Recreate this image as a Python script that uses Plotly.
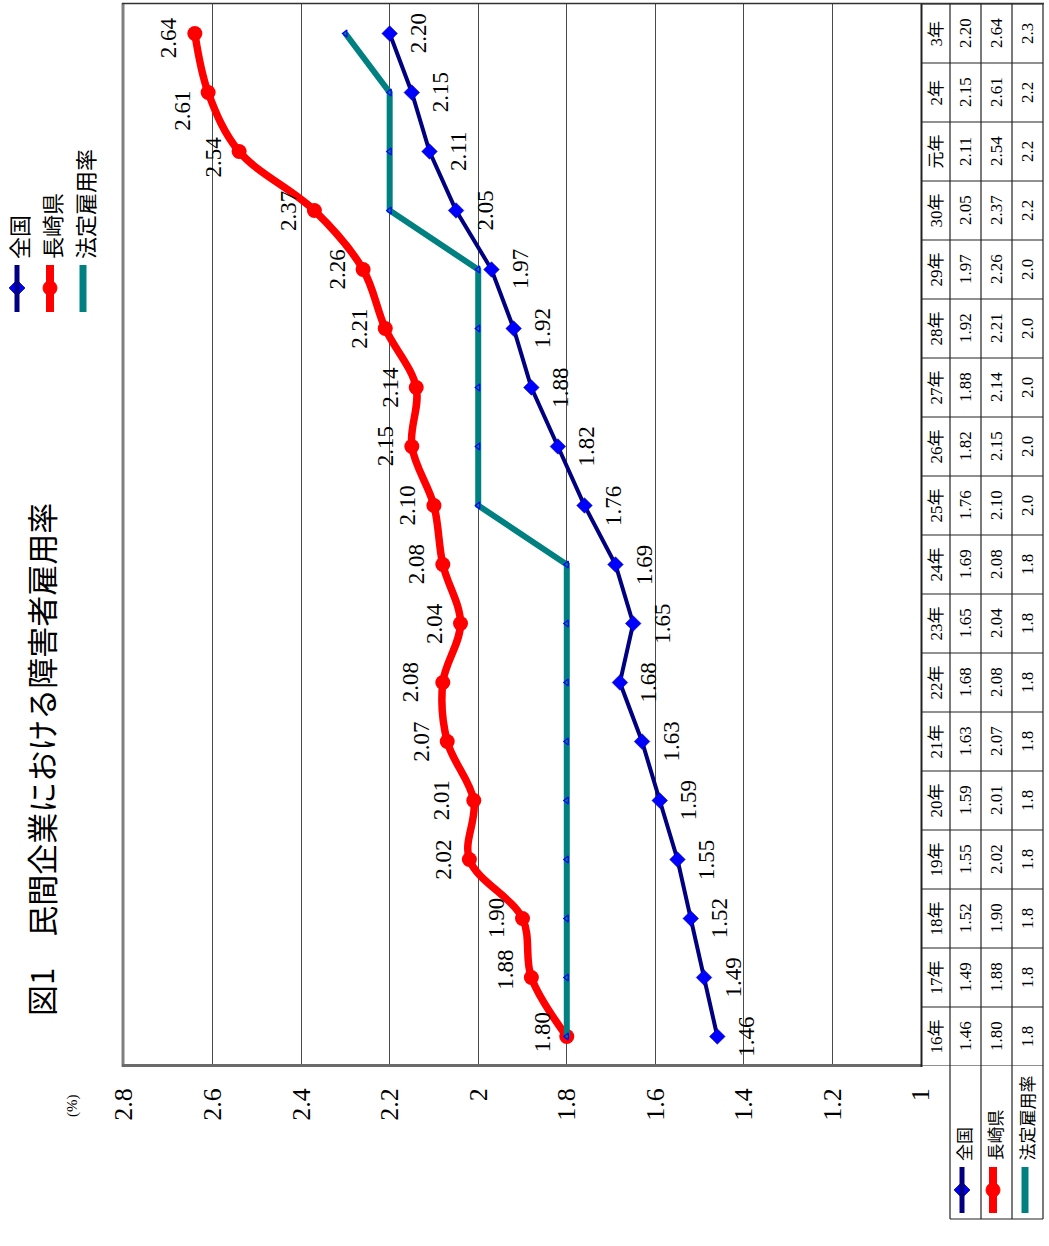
import plotly.graph_objects as go

W, H = 1049, 1246

# ---- data -------------------------------------------------------------
years = ["16年", "17年", "18年", "19年", "20年", "21年", "22年", "23年", "24年",
         "25年", "26年", "27年", "28年", "29年", "30年", "元年", "2年", "3年"]
national = [1.46, 1.49, 1.52, 1.55, 1.59, 1.63, 1.68, 1.65, 1.69,
            1.76, 1.82, 1.88, 1.92, 1.97, 2.05, 2.11, 2.15, 2.20]
nagasaki = [1.80, 1.88, 1.90, 2.02, 2.01, 2.07, 2.08, 2.04, 2.08,
            2.10, 2.15, 2.14, 2.21, 2.26, 2.37, 2.54, 2.61, 2.64]
legal = [1.8, 1.8, 1.8, 1.8, 1.8, 1.8, 1.8, 1.8, 1.8,
         2.0, 2.0, 2.0, 2.0, 2.0, 2.2, 2.2, 2.2, 2.3]
series_names = ["全国", "長崎県", "法定雇用率"]
value_ticks = [1.0, 1.2, 1.4, 1.6, 1.8, 2.0, 2.2, 2.4, 2.6, 2.8]
value_tick_text = ["1", "1.2", "1.4", "1.6", "1.8", "2", "2.2", "2.4", "2.6", "2.8"]
title_text = "図1　民間企業における障害者雇用率"

# ---- styles -----------------------------------------------------------
NAVY, BLUE, RED, TEAL = "#000080", "#0000FF", "#FF0000", "#008080"
SERIF = '"Liberation Serif", "Noto Sans CJK JP", serif'
CJK = '"Noto Sans CJK JP", sans-serif'

# label nudges (pixels) for a few crowded 長崎県 labels: index -> (dx, dy)
nagasaki_label_nudge = {0: (2, 4), 1: (0, 8), 4: (-6, 0), 6: (-6, 0),
                        15: (0, -6), 16: (0, -18), 17: (0, -4)}

# pixel -> paper helpers
def px(x):
    return x / W

def py(y):
    return 1 - y / H

PLOT_L, PLOT_R, PLOT_T, PLOT_B = 124, 921, 4, 1066

fig = go.Figure()

# series (chart is laid out rotated: values run right-to-left, years bottom-to-top)
fig.add_trace(go.Scatter(
    x=nagasaki, y=years, mode="lines+markers", name="長崎県",
    line=dict(color=RED, width=7.5, shape="spline", smoothing=1.0),
    marker=dict(symbol="circle", size=15, color=RED),
))
fig.add_trace(go.Scatter(
    x=legal, y=years, mode="lines+markers", name="法定雇用率",
    line=dict(color=TEAL, width=6),
    marker=dict(symbol="triangle-left", size=6, color=TEAL,
                line=dict(color=BLUE, width=1.2)),
))
fig.add_trace(go.Scatter(
    x=national, y=years, mode="lines+markers", name="全国",
    line=dict(color=NAVY, width=4),
    marker=dict(symbol="diamond", size=12, color=BLUE,
                line=dict(color=NAVY, width=0.5)),
))

annotations = []
shapes = []


def note(x, y, text, size, family, xref="paper", yref="paper",
         xanchor="center", yanchor="middle", xshift=0, yshift=0):
    annotations.append(dict(x=x, y=y, xref=xref, yref=yref, text=text,
                            textangle=-90, showarrow=False,
                            xanchor=xanchor, yanchor=yanchor,
                            xshift=xshift, yshift=yshift,
                            font=dict(family=family, size=size, color="black")))


# data labels
for v, yr in zip(national, years):
    note(v, yr, f"{v:.2f}", 23, SERIF, xref="x", yref="y", xshift=29)
for i, (v, yr) in enumerate(zip(nagasaki, years)):
    dx, dy = nagasaki_label_nudge.get(i, (0, 0))
    note(v, yr, f"{v:.2f}", 23, SERIF, xref="x", yref="y", xshift=-26 + dx, yshift=dy)

# title and unit
note(px(40), py(760), title_text, 31, CJK)
note(px(72), py(1106), "(%)", 15, SERIF)

# plot-area frame
shapes += [
    dict(type="line", xref="paper", yref="paper", x0=px(123), x1=px(123),
         y0=py(3), y1=py(1067), line=dict(color="#808080", width=3)),
    dict(type="line", xref="paper", yref="paper", x0=px(122), x1=px(922),
         y0=py(1065.5), y1=py(1065.5), line=dict(color="#6a6a6a", width=3)),
    dict(type="line", xref="paper", yref="paper", x0=px(921.5), x1=px(921.5),
         y0=py(3), y1=py(1067), line=dict(color="#222222", width=2)),
    dict(type="line", xref="paper", yref="paper", x0=px(122), x1=px(1044),
         y0=py(3.5), y1=py(3.5), line=dict(color="#333333", width=1.5)),
]

# data table to the right of the plot
COLS = [950, 981, 1012, 1043]
for cx in COLS:
    shapes.append(dict(type="line", xref="paper", yref="paper", x0=px(cx), x1=px(cx),
                       y0=py(4), y1=py(1219), line=dict(color="#222222", width=1.2)))
for k in range(len(years) + 1):
    shapes.append(dict(type="line", xref="paper", yref="y", x0=px(921), x1=px(1043),
                       y0=k - 0.5, y1=k - 0.5, line=dict(color="#222222", width=1.2)))
shapes.append(dict(type="line", xref="paper", yref="paper", x0=px(950), x1=px(1043),
                   y0=py(1219), y1=py(1219), line=dict(color="#222222", width=1.2)))

col_centers = [965.5, 996.5, 1027.5]
for i, yr in enumerate(years):
    note(px(936), yr, yr, 17, SERIF, yref="y")
    for cx, txt in zip(col_centers, [f"{national[i]:.2f}", f"{nagasaki[i]:.2f}",
                                     f"{legal[i]:.1f}"]):
        note(px(cx), yr, txt, 17, SERIF, yref="y")

# legend keys: one set in the table, one at the top left
key_styles = [
    dict(color=NAVY, width=5, symbol="diamond", msize=12, mcolor=BLUE, mline=NAVY),
    dict(color=RED, width=8, symbol="circle", msize=14, mcolor=RED, mline=RED),
    dict(color=TEAL, width=7, symbol="triangle-left", msize=6, mcolor=TEAL, mline=BLUE),
]


def add_key(xs, y_line0, y_line1, y_mark, y_text_end, font_size):
    for (kx, name, st) in zip(xs, series_names, key_styles):
        shapes.append(dict(type="line", xref="paper", yref="paper", x0=px(kx), x1=px(kx),
                           y0=py(y_line0), y1=py(y_line1),
                           line=dict(color=st["color"], width=st["width"])))
        fig.add_trace(go.Scatter(
            x=[kx], y=[y_mark], xaxis="x2", yaxis="y2", mode="markers",
            marker=dict(symbol=st["symbol"], size=st["msize"], color=st["mcolor"],
                        line=dict(color=st["mline"], width=1)),
            hoverinfo="skip"))
        note(px(kx + 1), py(y_text_end), name, font_size, CJK, yanchor="bottom")


add_key([962, 993, 1025], 1167, 1213, 1190, 1163, 17)
add_key([17, 50, 83], 265, 312, 288, 261, 22)

fig.update_layout(
    template="none",
    width=W, height=H,
    margin=dict(l=0, r=0, t=0, b=0, pad=0),
    paper_bgcolor="white",
    plot_bgcolor="rgba(0,0,0,0)",
    showlegend=False,
    xaxis=dict(domain=[px(PLOT_L), px(PLOT_R)], range=[2.8, 1.0], automargin=False,
               tickvals=value_ticks, ticktext=value_tick_text, tickangle=-90,
               tickfont=dict(family=SERIF, size=26, color="black"),
               ticks="", ticklabelstandoff=16,
               showgrid=True, gridcolor="#4a4a4a", gridwidth=1,
               zeroline=False, showline=False, fixedrange=True),
    yaxis=dict(domain=[py(PLOT_B), py(PLOT_T)], range=[-0.5, len(years) - 0.5],
               automargin=False,
               type="category", categoryorder="array", categoryarray=years,
               showticklabels=False, ticks="", showgrid=False, zeroline=False,
               showline=False, fixedrange=True),
    xaxis2=dict(domain=[0, 1], range=[0, W], anchor="y2", visible=False,
                automargin=False, fixedrange=True),
    yaxis2=dict(domain=[0, 1], range=[H, 0], anchor="x2", visible=False,
                automargin=False, fixedrange=True),
    annotations=annotations,
    shapes=shapes,
)

fig.write_html("out.html")
